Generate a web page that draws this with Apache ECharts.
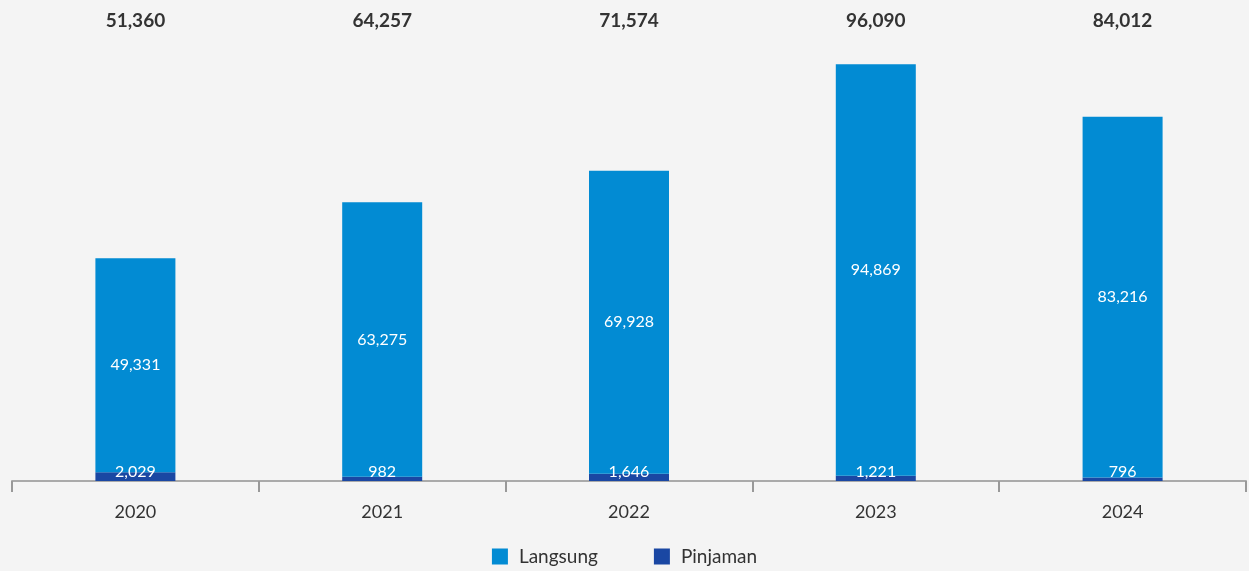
<!DOCTYPE html>
<html><head><meta charset="utf-8">
<script src="https://cdn.jsdelivr.net/npm/echarts@6/dist/echarts.min.js"></script>
<style>html,body{margin:0;padding:0;background:#f4f4f4;}#c{width:1249px;height:571px;}</style>
</head><body><div id="c"></div>
<script>
const categories = ['2020','2021','2022','2023','2024'];
const langsung = [49331, 63275, 69928, 94869, 83216];
const pinjaman = [2029, 982, 1646, 1221, 796];
const totals = [51360, 64257, 71574, 96090, 84012];
const fmt = v => Number(v).toLocaleString('en-US');
const FONT = 'Lato';
const chart = echarts.init(document.getElementById('c'));
chart.setOption({
  backgroundColor: '#f4f4f4',
  animation: false,
  textStyle: {fontFamily: FONT},
  grid: {left: 12, right: 3, top: 4, bottom: 90},
  legend: {
    top: 542, left: 'center', itemWidth: 16, itemHeight: 16, itemGap: 56,
    icon: 'rect',
    textStyle: {fontSize: 19, color: '#333', fontFamily: FONT, padding: [0, 0, 0, 6]},
    data: ['Langsung', 'Pinjaman']
  },
  xAxis: [{
    type: 'category', data: categories,
    axisLine: {show: true, lineStyle: {color: '#aaa', width: 2}},
    axisTick: {show: true, length: 11, interval: 0, lineStyle: {color: '#999', width: 2}},
    axisLabel: {fontSize: 18, color: '#333', margin: 22, fontFamily: FONT}
  }, {
    type: 'category', data: totals.map(fmt), position: 'top',
    axisLine: {show: false}, axisTick: {show: false},
    axisLabel: {inside: true, fontSize: 19, fontWeight: 'bold', color: '#333', margin: 7, fontFamily: FONT}
  }],
  yAxis: {type: 'value', min: 0, max: 110000, show: false, splitLine: {show: false}},
  series: [{
    name: 'Pinjaman', type: 'bar', stack: 't', data: pinjaman, barWidth: 80,
    itemStyle: {color: '#1a47a3'},
    label: {show: true, position: 'insideBottom', distance: 1, color: '#fff', fontSize: 16, formatter: p => fmt(p.value), fontFamily: FONT}
  }, {
    name: 'Langsung', type: 'bar', stack: 't', data: langsung, barWidth: 80,
    itemStyle: {color: '#028bd3'},
    label: {show: true, position: 'inside', color: '#fff', fontSize: 16, formatter: p => fmt(p.value), fontFamily: FONT}
  }]
});
</script></body></html>
